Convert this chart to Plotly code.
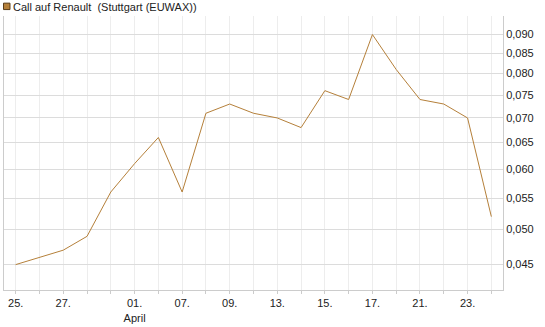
import plotly.graph_objects as go

tick_labels = ["25.", "", "27.", "", "", "01.<br>April", "", "07.", "", "09.", "",
               "13.", "", "15.", "", "17.", "", "21.", "", "23.", ""]
prices = [0.045, 0.046, 0.047, 0.049, 0.056, 0.061, 0.066, 0.056, 0.071, 0.073, 0.071,
          0.070, 0.068, 0.076, 0.074, 0.090, 0.081, 0.074, 0.073, 0.070, 0.052]
y_ticks = [0.045, 0.050, 0.055, 0.060, 0.065, 0.070, 0.075, 0.080, 0.085, 0.090]
series_name = "Call auf Renault  (Stuttgart (EUWAX))"
line_color = "#B5803A"

x_idx = list(range(len(prices)))

fig = go.Figure()
fig.add_trace(go.Scatter(x=x_idx, y=prices, mode="lines",
                         line=dict(color=line_color, width=1),
                         showlegend=False, hoverinfo="skip"))

fig.update_layout(
    width=545, height=327,
    margin=dict(l=3, r=42, t=16, b=34),
    paper_bgcolor="white", plot_bgcolor="white",
    separators=",.",
    font=dict(family="Liberation Sans, Arial, sans-serif", size=11, color="#222"),
    showlegend=False,
)
fig.update_xaxes(
    range=[-0.49, len(prices) - 0.51],
    tickvals=x_idx, ticktext=tick_labels,
    showgrid=True, gridcolor="#ededed", gridwidth=1,
    showline=True, linecolor="#cccccc", linewidth=1,
    ticks="outside", ticklen=3, tickcolor="#cccccc",
    zeroline=False, tickfont=dict(size=11, color="#222"),
)
fig.update_yaxes(
    type="log", side="right",
    range=[-1.380, -1.0215],
    tickvals=y_ticks, tickformat=".3f",
    showgrid=True, gridcolor="#dcdcdc", gridwidth=1,
    showline=True, mirror=True, linecolor="#cccccc", linewidth=1,
    ticks="", zeroline=False, tickfont=dict(size=11, color="#222"),
)

fig.add_shape(type="rect", xref="paper", yref="paper",
              x0=-0.5 / 500, x1=6 / 500, y0=1 + 6.5 / 277, y1=1 + 13 / 277,
              fillcolor=line_color, line=dict(color="#5a3d1a", width=1))
fig.add_annotation(xref="paper", yref="paper", x=7.5 / 500, y=1 + 9.5 / 277,
                   text=series_name, showarrow=False, xanchor="left", yanchor="middle",
                   font=dict(size=11, color="#222"))

fig.write_html("out.html")
